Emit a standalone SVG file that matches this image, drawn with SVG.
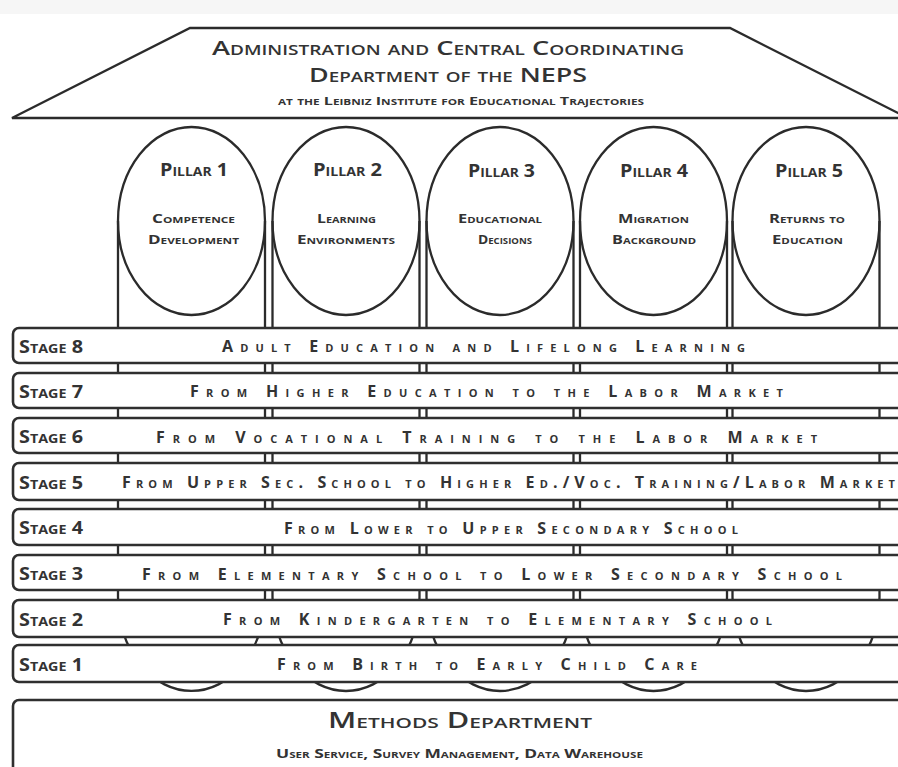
<svg xmlns="http://www.w3.org/2000/svg" width="898" height="767" viewBox="0 0 898 767">
<style>
  .ln { fill: none; stroke: #2b2b2b; stroke-width: 2.3; }
  .box { fill: #ffffff; stroke: #2f2f2f; stroke-width: 2.6; }
  .t { font-family: "Open Sans", "Liberation Sans", sans-serif; font-variant: small-caps; fill: #333333; }
  .roof1 { font-size: 20px; font-weight: 600; }
  .roof3 { font-size: 11px; font-weight: 700; }
  .ptitle { font-size: 17px; font-weight: 700; }
  .psub { font-size: 13px; font-weight: 700; }
  .slabel { font-size: 18px; font-weight: 700; }
  .stxt { font-size: 16px; font-weight: 700; }
  .mt { font-size: 22px; font-weight: 600; }
  .ms { font-size: 12px; font-weight: 700; }
</style>
<rect x="0" y="0" width="898" height="767" fill="#ffffff"/>
<rect x="0" y="0" width="898" height="14" fill="#f6f6f6"/>

<g id="roof">
  <polygon class="ln" points="12,118 190,28 730,28 908,118" fill="#ffffff" stroke-width="2.5"/>
  <text class="t roof1" x="212" y="55" textLength="472" lengthAdjust="spacingAndGlyphs">Administration and Central Coordinating</text>
  <text class="t roof1" x="309" y="82" textLength="278" lengthAdjust="spacingAndGlyphs">Department of the NEPS</text>
  <text class="t roof3" x="278" y="105" textLength="366" lengthAdjust="spacingAndGlyphs">at the Leibniz Institute for Educational Trajectories</text>
</g>

<g id="connectors">
  <path class="ln" d="M118,221 V597 A73.5,94 0 0 0 265,597 V221"/>
  <path class="ln" d="M272.5,221 V597 A73.5,94 0 0 0 419.5,597 V221"/>
  <path class="ln" d="M426.5,221 V597 A73.5,94 0 0 0 573.5,597 V221"/>
  <path class="ln" d="M580,221 V597 A73.5,94 0 0 0 727,597 V221"/>
  <path class="ln" d="M732.5,221 V597 A73.5,94 0 0 0 879.5,597 V221"/>
</g>

<g id="pillar1">
  <ellipse class="ln" cx="191.5" cy="221" rx="73.5" ry="94" fill="#ffffff"/>
  <text class="t ptitle" x="160" y="176" textLength="68" lengthAdjust="spacingAndGlyphs">Pillar 1</text>
  <text class="t psub" x="152" y="223" textLength="83" lengthAdjust="spacingAndGlyphs">Competence</text>
  <text class="t psub" x="148" y="244" textLength="91" lengthAdjust="spacingAndGlyphs">Development</text>
</g>
<g id="pillar2">
  <ellipse class="ln" cx="346" cy="221" rx="73.5" ry="94" fill="#ffffff"/>
  <text class="t ptitle" x="313" y="176" textLength="69" lengthAdjust="spacingAndGlyphs">Pillar 2</text>
  <text class="t psub" x="317" y="223" textLength="59" lengthAdjust="spacingAndGlyphs">Learning</text>
  <text class="t psub" x="297" y="244" textLength="98" lengthAdjust="spacingAndGlyphs">Environments</text>
</g>
<g id="pillar3">
  <ellipse class="ln" cx="500" cy="221" rx="73.5" ry="94" fill="#ffffff"/>
  <text class="t ptitle" x="468" y="177" textLength="67" lengthAdjust="spacingAndGlyphs">Pillar 3</text>
  <text class="t psub" x="458" y="223" textLength="84" lengthAdjust="spacingAndGlyphs">Educational</text>
  <text class="t psub" x="478" y="244" textLength="54" lengthAdjust="spacingAndGlyphs">Decisions</text>
</g>
<g id="pillar4">
  <ellipse class="ln" cx="653.5" cy="221" rx="73.5" ry="94" fill="#ffffff"/>
  <text class="t ptitle" x="620" y="177" textLength="68" lengthAdjust="spacingAndGlyphs">Pillar 4</text>
  <text class="t psub" x="618" y="223" textLength="71" lengthAdjust="spacingAndGlyphs">Migration</text>
  <text class="t psub" x="612" y="244" textLength="84" lengthAdjust="spacingAndGlyphs">Background</text>
</g>
<g id="pillar5">
  <ellipse class="ln" cx="806" cy="221" rx="73.5" ry="94" fill="#ffffff"/>
  <text class="t ptitle" x="775" y="177" textLength="68" lengthAdjust="spacingAndGlyphs">Pillar 5</text>
  <text class="t psub" x="769" y="223" textLength="76" lengthAdjust="spacingAndGlyphs">Returns to</text>
  <text class="t psub" x="772" y="244" textLength="71" lengthAdjust="spacingAndGlyphs">Education</text>
</g>

<g id="stage8">
  <rect class="box" x="13" y="328" width="960" height="35" rx="6"/>
  <text class="t slabel" x="19" y="353" textLength="64" lengthAdjust="spacingAndGlyphs">Stage 8</text>
  <text class="t stxt" x="222" y="352" textLength="523" lengthAdjust="spacing">Adult Education and Lifelong Learning</text>
</g>
<g id="stage7">
  <rect class="box" x="13" y="373" width="960" height="35" rx="6"/>
  <text class="t slabel" x="19" y="398" textLength="64" lengthAdjust="spacingAndGlyphs">Stage 7</text>
  <text class="t stxt" x="190" y="397" textLength="593" lengthAdjust="spacing">From Higher Education to the Labor Market</text>
</g>
<g id="stage6">
  <rect class="box" x="13" y="418" width="960" height="35" rx="6"/>
  <text class="t slabel" x="19" y="443" textLength="64" lengthAdjust="spacingAndGlyphs">Stage 6</text>
  <text class="t stxt" x="156" y="443" textLength="661" lengthAdjust="spacing">From Vocational Training to the Labor Market</text>
</g>
<g id="stage5">
  <rect class="box" x="13" y="463" width="960" height="37" rx="6"/>
  <text class="t slabel" x="19" y="489" textLength="64" lengthAdjust="spacingAndGlyphs">Stage 5</text>
  <text class="t stxt" x="122" y="488" textLength="773" lengthAdjust="spacing">From Upper Sec. School to Higher Ed./Voc. Training/Labor Market</text>
</g>
<g id="stage4">
  <rect class="box" x="13" y="509" width="960" height="36" rx="6"/>
  <text class="t slabel" x="19" y="534" textLength="64" lengthAdjust="spacingAndGlyphs">Stage 4</text>
  <text class="t stxt" x="284" y="534" textLength="454" lengthAdjust="spacing">From Lower to Upper Secondary School</text>
</g>
<g id="stage3">
  <rect class="box" x="13" y="555" width="960" height="35" rx="6"/>
  <text class="t slabel" x="19" y="580" textLength="64" lengthAdjust="spacingAndGlyphs">Stage 3</text>
  <text class="t stxt" x="142" y="580" textLength="700" lengthAdjust="spacing">From Elementary School to Lower Secondary School</text>
</g>
<g id="stage2">
  <rect class="box" x="13" y="600" width="960" height="37" rx="6"/>
  <text class="t slabel" x="19" y="626" textLength="64" lengthAdjust="spacingAndGlyphs">Stage 2</text>
  <text class="t stxt" x="223" y="625" textLength="549" lengthAdjust="spacing">From Kindergarten to Elementary School</text>
</g>
<g id="stage1">
  <rect class="box" x="13" y="645" width="960" height="37" rx="6"/>
  <text class="t slabel" x="19" y="671" textLength="64" lengthAdjust="spacingAndGlyphs">Stage 1</text>
  <text class="t stxt" x="277" y="670" textLength="420" lengthAdjust="spacing">From Birth to Early Child Care</text>
</g>

<g id="methods">
  <rect class="box" x="13" y="700" width="960" height="100" rx="6"/>
  <text class="t mt" x="328" y="728" textLength="264" lengthAdjust="spacingAndGlyphs">Methods Department</text>
  <text class="t ms" x="276" y="758" textLength="367" lengthAdjust="spacingAndGlyphs">User Service, Survey Management, Data Warehouse</text>
</g>
</svg>
